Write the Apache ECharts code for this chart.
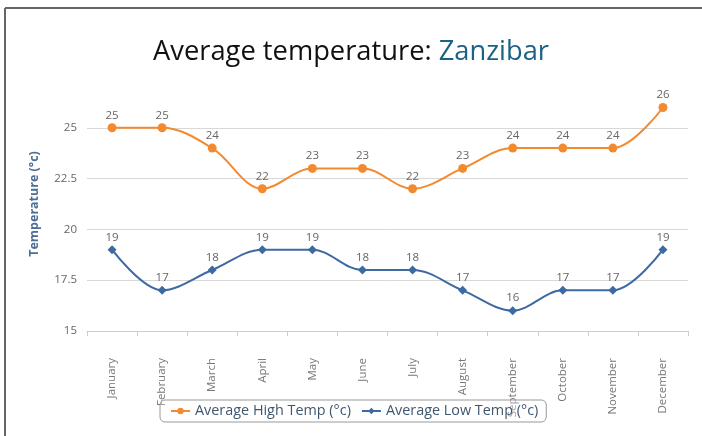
<!DOCTYPE html>
<html>
<head>
<meta charset="utf-8">
<script src="https://cdn.jsdelivr.net/npm/echarts@6/dist/echarts.min.js"></script>
<style>
    html, body { margin: 0; padding: 0; background: #fff; }
    #chart { width: 702px; height: 436px; }
</style>
</head>
<body>
<div id="chart"></div>
<script type="text/javascript">
    var months = ['January', 'February', 'March', 'April', 'May', 'June', 'July', 'August', 'September', 'October', 'November', 'December'];
    var highTemp = [25, 25, 24, 22, 23, 23, 22, 23, 24, 24, 24, 26];
    var lowTemp = [19, 17, 18, 19, 19, 18, 18, 17, 16, 17, 17, 19];
    var yTicks = [15, 17.5, 20, 22.5, 25];

    var myChart = echarts.init(document.getElementById('chart'));

    var option = {
        animation: false,
        title: {
            text: '{a|Average temperature: }{b|Zanzibar}',
            left: 'center',
            top: 34,
            textStyle: {
                rich: {
                    a: { fontFamily: 'Open Sans', fontWeight: 'normal', fontSize: 27.3, color: '#111' },
                    b: { fontFamily: 'Open Sans', fontWeight: 'normal', fontSize: 27.3, color: '#1b6385' }
                }
            }
        },
        // frame of the card the chart sits in
        graphic: [
            { type: 'line', shape: { x1: 5, y1: 8, x2: 702, y2: 8 }, style: { stroke: '#666', lineWidth: 2 } },
            { type: 'line', shape: { x1: 5, y1: 8, x2: 5, y2: 436 }, style: { stroke: '#666', lineWidth: 2 } }
        ],
        legend: {
            bottom: 14,
            left: 160,
            itemGap: 10,
            padding: [4, 8, 4, 10],
            borderColor: '#999',
            borderWidth: 1,
            borderRadius: 5,
            backgroundColor: 'rgba(255,255,255,0.3)',
            itemWidth: 19,
            itemHeight: 8,
            textStyle: { color: '#3E576F', fontSize: 14.4, fontFamily: 'Open Sans' },
            data: ['Average High Temp (°c)', 'Average Low Temp (°c)']
        },
        grid: {
            left: 87,
            right: 14,
            top: 77,
            bottom: 105
        },
        xAxis: {
            type: 'category',
            data: months,
            boundaryGap: true,
            axisLine: { lineStyle: { color: '#c0d0e0' } },
            axisTick: { show: true, length: 5, lineStyle: { color: '#c0d0e0' } },
            axisLabel: {
                rotate: 90,
                margin: 27,
                color: '#777',
                fontSize: 11.5,
                fontFamily: 'Open Sans',
                interval: 0
            }
        },
        yAxis: {
            type: 'value',
            min: 15,
            max: 27.5,
            interval: 2.5,
            name: 'Temperature (°c)',
            nameLocation: 'middle',
            nameGap: 46,
            nameTextStyle: { color: '#4d6d95', fontSize: 12.5, fontWeight: 'bold', fontFamily: 'Open Sans' },
            axisLine: { show: false },
            axisTick: { show: false },
            axisLabel: {
                showMaxLabel: false,
                color: '#666',
                fontSize: 11.5,
                fontFamily: 'Open Sans',
                margin: 10,
                formatter: function (v) {
                    return yTicks.indexOf(v) >= 0 ? String(v) : '';
                }
            },
            splitLine: {
                showMaxLine: false,
                showMinLine: false,
                lineStyle: { color: '#d8d8d8' }
            }
        },
        series: [
            {
                name: 'Average High Temp (°c)',
                type: 'line',
                smooth: 0.35,
                data: highTemp,
                symbol: 'circle',
                symbolSize: 9,
                color: '#f28b30',
                lineStyle: { width: 2 },
                label: { show: true, position: 'top', distance: 2, color: '#666', fontSize: 11.5, fontFamily: 'Open Sans' }
            },
            {
                name: 'Average Low Temp (°c)',
                type: 'line',
                smooth: 0.35,
                data: lowTemp,
                symbol: 'diamond',
                symbolSize: 9,
                color: '#3d6aa0',
                lineStyle: { width: 2 },
                label: { show: true, position: 'top', distance: 2, color: '#666', fontSize: 11.5, fontFamily: 'Open Sans' }
            }
        ]
    };

    myChart.setOption(option);
</script>
</body>
</html>
